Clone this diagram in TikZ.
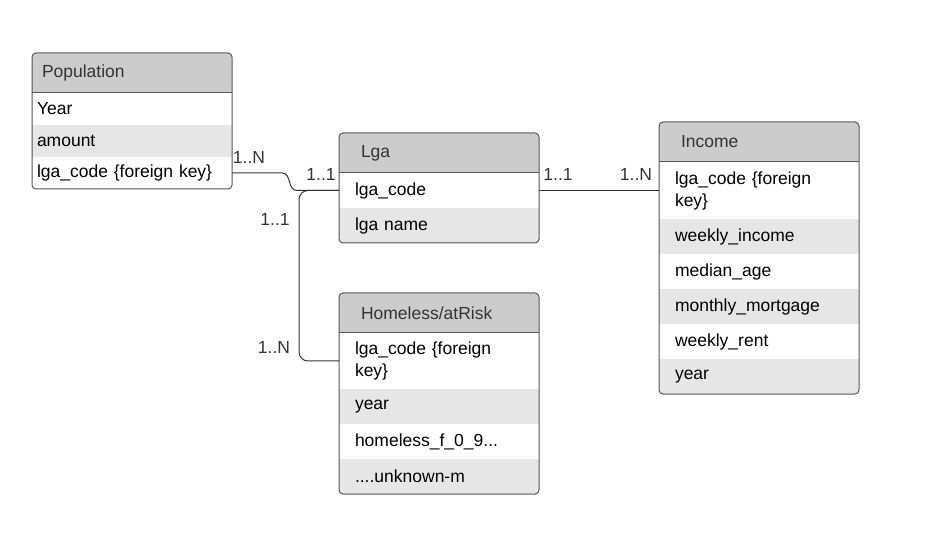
\documentclass[tikz,border=0pt]{standalone}
\usepackage{fontspec}
\setmainfont{Liberation Sans}
\definecolor{hdrgray}{HTML}{CCCCCC}
\definecolor{altgray}{HTML}{E6E6E6}
\definecolor{edgegray}{HTML}{555555}
\definecolor{inkgray}{HTML}{333333}
\begin{document}
\begin{tikzpicture}[x=1pt,y=-1pt,
    font=\fontsize{17.5}{22}\selectfont,
    every node/.style={inner sep=0pt, outer sep=0pt},
    box/.style={rectangle, anchor=north west, align=left, minimum height=35},
    pophead/.style={box, fill=hdrgray, text=inkgray, minimum height=40, inner xsep=10, text width=180},
    popcell/.style={box, minimum height=32, inner xsep=5, text width=190},
    head/.style={box, fill=hdrgray, text=inkgray, minimum height=40, inner xsep=22, text width=156},
    cell/.style={box, inner xsep=16, text width=168},
    alt/.style={fill=altgray},
    frame/.style={draw=edgegray, line width=1, rounded corners=4},
    link/.style={draw=inkgray, line width=1},
    card/.style={text=inkgray}]
\useasboundingbox (0,0) rectangle (926,534);

% Population
\begin{scope}
  \clip[rounded corners=4] (32,53) rectangle (232,189);
  \node[pophead] (pop) at (32,53) {Population};
  \node[popcell] (popyear) at (pop.south west) {Year};
  \node[popcell, alt] (popamount) at (popyear.south west) {amount};
  \node[popcell] (popkey) at (popamount.south west) {lga\_code \{foreign key\}};
\end{scope}
\draw[frame] (pop.north west) rectangle (popkey.south east);
\draw[edgegray, line width=1] (pop.south west) -- (pop.south east);

% Lga
\begin{scope}
  \clip[rounded corners=4] (339,133) rectangle (539,243);
  \node[head] (lga) at (339,133) {Lga};
  \node[cell] (lgacode) at (lga.south west) {lga\_code};
  \node[cell, alt] (lganame) at (lgacode.south west) {lga name};
\end{scope}
\draw[frame] (lga.north west) rectangle (lganame.south east);
\draw[edgegray, line width=1] (lga.south west) -- (lga.south east);

% Homeless/atRisk
\begin{scope}
  \clip[rounded corners=4] (339,293) rectangle (539,494);
  \node[head] (home) at (339,293) {Homeless/atRisk};
  \node[cell, minimum height=56] (homekey) at (home.south west) {lga\_code \{foreign\\key\}};
  \node[cell, alt] (homeyear) at (homekey.south west) {year};
  \node[cell] (homef) at (homeyear.south west) {homeless\_f\_0\_9...};
  \node[cell, alt] (homeunk) at (homef.south west) {....unknown-m};
\end{scope}
\draw[frame] (home.north west) rectangle (homeunk.south east);
\draw[edgegray, line width=1] (home.south west) -- (home.south east);

% Income
\begin{scope}
  \clip[rounded corners=4] (659,122) rectangle (859,394);
  \node[head] (inc) at (659,122) {Income};
  \node[cell, minimum height=57] (inckey) at (inc.south west) {lga\_code \{foreign\\key\}};
  \node[cell, alt] (incweekly) at (inckey.south west) {weekly\_income};
  \node[cell] (incage) at (incweekly.south west) {median\_age};
  \node[cell, alt] (incmort) at (incage.south west) {monthly\_mortgage};
  \node[cell] (incrent) at (incmort.south west) {weekly\_rent};
  \node[cell, alt] (incyear) at (incrent.south west) {year};
\end{scope}
\draw[frame] (inc.north west) rectangle (incyear.south east);
\draw[edgegray, line width=1] (inc.south west) -- (inc.south east);

% connectors
\draw[link] (popkey.east) -- ++(50,0) .. controls +(10,0) and +(-10,0) .. ([xshift=-42]lgacode.west) -- (lgacode.west);
\draw[link, rounded corners=9] (lgacode.west) -- ++(-40,0) |- (homekey.west);
\draw[link] (lgacode.east) -- (inckey.west);

% cardinalities
\node[card] (c1) at (249,157) {1..N};
\node[card] (c2) at (321,174) {1..1};
\node[card] (c3) at (275,219) {1..1};
\node[card] (c4) at (274,347) {1..N};
\node[card] (c5) at (558,174) {1..1};
\node[card] (c6) at (636,174) {1..N};
\end{tikzpicture}
\end{document}
